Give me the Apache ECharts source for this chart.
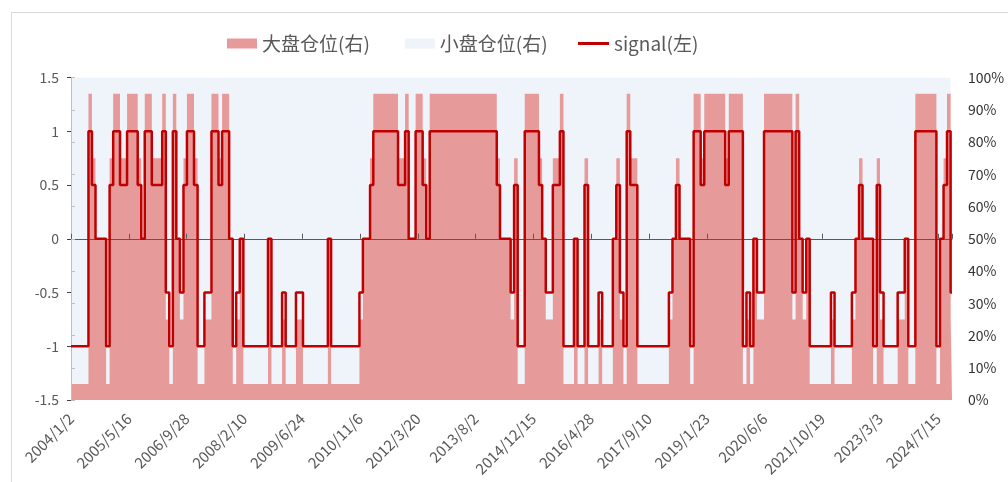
<!DOCTYPE html>
<html>
<head>
<meta charset="utf-8">
<script src="https://cdn.jsdelivr.net/npm/echarts@6/dist/echarts.min.js"></script>
<style>
  html, body { margin: 0; padding: 0; background: #fff; }
  #chart { width: 1008px; height: 482px; }
</style>
</head>
<body>
<div id="chart"></div>
<script>
// 信号变化日期（每次信号变化的日期，最后一个是数据结束日）
const changeDates = [
  '2004-01-02', '2004-06-01', '2004-07-01', '2004-08-01', '2004-11-01', '2004-12-01',
  '2005-01-01', '2005-03-01', '2005-05-01', '2005-08-01', '2005-09-01', '2005-10-01', '2005-12-01',
  '2006-03-01', '2006-04-01', '2006-05-01', '2006-06-01', '2006-07-01', '2006-08-01', '2006-09-01', '2006-10-01', '2006-12-01',
  '2007-01-01', '2007-03-01', '2007-05-01', '2007-07-01', '2007-08-01', '2007-10-01', '2007-11-01', '2007-12-01',
  '2008-01-01', '2008-02-01', '2008-09-01', '2008-10-01',
  '2009-01-01', '2009-02-01', '2009-05-01', '2009-07-01',
  '2010-02-01', '2010-03-01', '2010-11-01', '2010-12-01',
  '2011-02-01', '2011-03-01', '2011-10-01', '2011-12-01',
  '2012-01-01', '2012-03-01', '2012-05-01', '2012-06-01', '2012-07-01',
  '2014-02-01', '2014-03-01', '2014-06-01', '2014-07-01', '2014-08-01', '2014-10-01',
  '2015-02-01', '2015-03-01', '2015-04-01', '2015-06-01', '2015-08-01', '2015-09-01', '2015-12-01',
  '2016-01-01', '2016-03-01', '2016-04-01', '2016-07-01', '2016-08-01', '2016-11-01', '2016-12-01',
  '2017-01-01', '2017-02-01', '2017-03-01', '2017-04-01', '2017-06-01',
  '2018-03-01', '2018-04-01', '2018-05-01', '2018-06-01', '2018-09-01', '2018-10-01', '2018-12-01',
  '2019-01-01', '2019-07-01', '2019-08-01', '2019-12-01',
  '2020-01-01', '2020-02-01', '2020-03-01', '2020-04-01', '2020-06-01',
  '2021-02-01', '2021-03-01', '2021-04-01', '2021-05-01', '2021-06-01', '2021-07-01',
  '2022-01-01', '2022-02-01', '2022-07-01', '2022-08-01', '2022-09-01', '2022-10-01',
  '2023-01-01', '2023-02-01', '2023-03-01', '2023-04-01', '2023-08-01', '2023-10-01', '2023-11-01',
  '2024-01-01', '2024-07-01', '2024-08-01', '2024-09-01', '2024-10-01', '2024-11-01', '2024-11-13'
];

// signal(左)
const signal = [
  -1, 1, 0.5, 0, -1, 0.5,
  1, 0.5, 1, 0.5, 0, 1, 0.5,
  1, -0.5, -1, 1, 0, -0.5, 0.5, 1, 0.5,
  -1, -0.5, 1, 0.5, 1, 0, -1, -0.5,
  0, -1, 0, -1,
  -0.5, -1, -0.5, -1,
  0, -1, -0.5, 0,
  0.5, 1, 0.5, 1,
  0, 1, 0.5, 0, 1,
  0.5, 0, -0.5, 0.5, -1, 1,
  0.5, 0, -0.5, 0.5, 1, -1, 0,
  -1, 0.5, -1, -0.5, -1, 0, 0.5,
  -0.5, -1, 1, 0.5, -1,
  -0.5, 0, 0.5, 0, -1, 1, 0.5,
  1, 0.5, 1, -1,
  -0.5, -1, 0, -0.5, 1,
  -0.5, 1, 0, -0.5, 0, -1,
  -0.5, -1, -0.5, 0, 0.5, 0,
  -1, 0.5, -0.5, -1, -0.5, 0, -1,
  1, -1, 0, 0.5, 1, -0.5, -0.5
];

// 大盘仓位(右)
const bigPos = [
  0.05, 0.95, 0.75, 0.5, 0.05, 0.75,
  0.95, 0.75, 0.95, 0.75, 0.5, 0.95, 0.75,
  0.95, 0.25, 0.05, 0.95, 0.5, 0.25, 0.75, 0.95, 0.75,
  0.05, 0.25, 0.95, 0.75, 0.95, 0.5, 0.05, 0.25,
  0.5, 0.05, 0.5, 0.05,
  0.25, 0.05, 0.25, 0.05,
  0.5, 0.05, 0.25, 0.5,
  0.75, 0.95, 0.75, 0.95,
  0.5, 0.95, 0.75, 0.5, 0.95,
  0.75, 0.5, 0.25, 0.75, 0.05, 0.95,
  0.75, 0.5, 0.25, 0.75, 0.95, 0.05, 0.5,
  0.05, 0.75, 0.05, 0.25, 0.05, 0.5, 0.75,
  0.25, 0.05, 0.95, 0.75, 0.05,
  0.25, 0.5, 0.75, 0.5, 0.05, 0.95, 0.75,
  0.95, 0.75, 0.95, 0.05,
  0.25, 0.05, 0.5, 0.25, 0.95,
  0.25, 0.95, 0.5, 0.25, 0.5, 0.05,
  0.25, 0.05, 0.25, 0.5, 0.75, 0.5,
  0.05, 0.75, 0.25, 0.05, 0.25, 0.5, 0.05,
  0.95, 0.05, 0.5, 0.75, 0.95, 0.25, 0.25
];

// 小盘仓位(右)
const smallPos = [
  0.95, 0.05, 0.25, 0.5, 0.95, 0.25,
  0.05, 0.25, 0.05, 0.25, 0.5, 0.05, 0.25,
  0.05, 0.75, 0.95, 0.05, 0.5, 0.75, 0.25, 0.05, 0.25,
  0.95, 0.75, 0.05, 0.25, 0.05, 0.5, 0.95, 0.75,
  0.5, 0.95, 0.5, 0.95,
  0.75, 0.95, 0.75, 0.95,
  0.5, 0.95, 0.75, 0.5,
  0.25, 0.05, 0.25, 0.05,
  0.5, 0.05, 0.25, 0.5, 0.05,
  0.25, 0.5, 0.75, 0.25, 0.95, 0.05,
  0.25, 0.5, 0.75, 0.25, 0.05, 0.95, 0.5,
  0.95, 0.25, 0.95, 0.75, 0.95, 0.5, 0.25,
  0.75, 0.95, 0.05, 0.25, 0.95,
  0.75, 0.5, 0.25, 0.5, 0.95, 0.05, 0.25,
  0.05, 0.25, 0.05, 0.95,
  0.75, 0.95, 0.5, 0.75, 0.05,
  0.75, 0.05, 0.5, 0.75, 0.5, 0.95,
  0.75, 0.95, 0.75, 0.5, 0.25, 0.5,
  0.95, 0.25, 0.75, 0.95, 0.75, 0.5, 0.95,
  0.05, 0.95, 0.5, 0.25, 0.05, 0.75, 0.75
];

const leftTicks = { min: -1.5, max: 1.5, step: 0.5 };
const rightTicks = { min: 0, max: 1, step: 0.1 };
const labelStepDays = 500;

// x 轴用距 2004/1/2 的天数，便于每 500 天一个刻度
const DAY = 86400000;
const START = Date.UTC(2004, 0, 2);
function dayIndex(s) {
  const p = s.split('-').map(Number);
  return Math.round((Date.UTC(p[0], p[1] - 1, p[2]) - START) / DAY);
}
function dayLabel(v) {
  if (v % labelStepDays !== 0) return '';
  const t = new Date(START + v * DAY);
  return t.getUTCFullYear() + '/' + (t.getUTCMonth() + 1) + '/' + t.getUTCDate();
}

const xs = changeDates.map(dayIndex);
const xMax = xs[xs.length - 1];
const FONT = '"Noto Sans CJK SC", "Noto Sans", sans-serif';
const PINK = '#e69a9a';
const BLUE = '#eff4fa';
const RED = '#c00000';

const chart = echarts.init(document.getElementById('chart'));

const legendText = { fontSize: 19, color: '#595959', fontFamily: FONT };

const option = {
  animation: false,
  backgroundColor: '#fff',
  textStyle: { fontFamily: FONT },
  graphic: [{
    type: 'rect',
    shape: { x: 11.5, y: 12.5, width: 1200, height: 1000 },
    style: { fill: 'none', stroke: '#d9d9d9', lineWidth: 1 },
    silent: true
  }],
  legend: [
    {
      left: 227,
      top: 34,
      padding: 0,
      itemWidth: 30,
      itemHeight: 10,
      itemGap: 35,
      textStyle: legendText,
      data: [
        { name: '大盘仓位(右)', icon: 'rect' },
        { name: '小盘仓位(右)', icon: 'rect' }
      ]
    },
    {
      left: 578,
      top: 34,
      padding: 0,
      itemWidth: 31,
      itemHeight: 3,
      textStyle: legendText,
      data: [{ name: 'signal(左)', icon: 'rect' }]
    }
  ],
  grid: { left: 71, right: 56, top: 77.5, bottom: 82, containLabel: false },
  xAxis: [
    {
      type: 'value',
      min: 0,
      max: xMax,
      interval: labelStepDays,
      position: 'bottom',
      axisLine: { show: false, onZero: false },
      axisTick: { show: false },
      splitLine: { show: false },
      axisLabel: {
        rotate: 45,
        margin: 16,
        fontSize: 15,
        color: '#595959',
        formatter: dayLabel,
        showMaxLabel: false
      }
    },
    {
      // 横穿 0 的轴线
      type: 'value',
      min: 0,
      max: xMax,
      interval: labelStepDays,
      position: 'bottom',
      z: 4,
      axisLine: { show: true, onZero: true, onZeroAxisIndex: 0, lineStyle: { color: '#595959', width: 1 } },
      axisTick: { show: true, inside: true, length: 5, lineStyle: { color: '#595959' } },
      axisLabel: { show: false },
      splitLine: { show: false }
    }
  ],
  yAxis: [
    {
      type: 'value',
      min: leftTicks.min,
      max: leftTicks.max,
      interval: leftTicks.step,
      position: 'left',
      z: 4,
      axisLine: { show: true, lineStyle: { color: '#404040', width: 1 } },
      axisTick: { show: true, length: 4, lineStyle: { color: '#404040' } },
      splitLine: { show: false },
      axisLabel: { fontSize: 14, color: '#595959', margin: 12 }
    },
    {
      type: 'value',
      min: rightTicks.min,
      max: rightTicks.max,
      interval: rightTicks.step,
      position: 'right',
      z: 4,
      axisLine: { show: true, lineStyle: { color: '#bfbfbf', width: 1 } },
      axisTick: { show: true, length: 4, lineStyle: { color: '#bfbfbf' } },
      splitLine: { show: false },
      axisLabel: {
        fontSize: 14,
        color: '#333',
        margin: 16,
        formatter: v => Math.round(v * 100) + '%'
      }
    }
  ],
  series: [
    {
      // 小盘叠在大盘之上：顶边 = 大盘 + 小盘，先画，再用大盘盖住下半部分
      name: '小盘仓位(右)',
      type: 'line',
      xAxisIndex: 0,
      yAxisIndex: 1,
      step: 'end',
      symbol: 'none',
      z: 1,
      color: BLUE,
      lineStyle: { width: 0 },
      areaStyle: { color: BLUE, opacity: 1 },
      data: xs.map((x, i) => [x, bigPos[i] + smallPos[i]])
    },
    {
      name: '大盘仓位(右)',
      type: 'line',
      xAxisIndex: 0,
      yAxisIndex: 1,
      step: 'end',
      symbol: 'none',
      z: 2,
      color: PINK,
      lineStyle: { width: 0 },
      areaStyle: { color: PINK, opacity: 1 },
      data: xs.map((x, i) => [x, bigPos[i]])
    },
    {
      name: 'signal(左)',
      type: 'line',
      xAxisIndex: 0,
      yAxisIndex: 0,
      step: 'end',
      symbol: 'none',
      z: 6,
      color: RED,
      lineStyle: { color: RED, width: 2.5 },
      data: xs.map((x, i) => [x, signal[i]])
    }
  ]
};

chart.setOption(option);
</script>
</body>
</html>
